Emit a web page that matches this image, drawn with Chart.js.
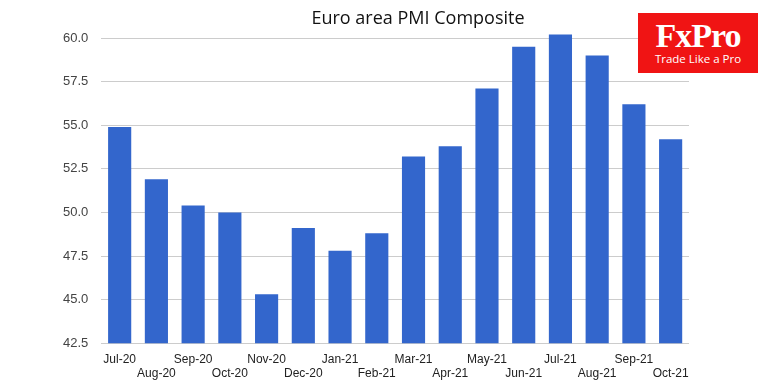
<!DOCTYPE html>
<html lang="en">
<head>
    <meta charset="UTF-8">
    <title>Euro area PMI Composite</title>
    <script src="https://cdn.jsdelivr.net/npm/chart.js"></script>
    <style>
        body { margin: 0; background: #fff; }
        .wrap { position: relative; width: 770px; height: 385px; }
        .title { position: absolute; left: 0; width: 836px; top: 5px; text-align: center;
                 font: 18px "Open Sans", sans-serif; color: #111; }
        .logo { position: absolute; left: 638px; top: 13px; width: 120px; height: 60px; background: #f01414; color: #fff; text-align: center; }
        .logo .name { font: bold 34px "Liberation Serif", serif; line-height: 30px; margin-top: 8px; letter-spacing: -1px; }
        .logo .tag { font: 11.5px "Open Sans", sans-serif; margin-top: 0px; }
    </style>
</head>
<body>
<div class="wrap">
    <canvas id="pmi" width="770" height="385"></canvas>
    <div class="title">Euro area PMI Composite</div>
    <div class="logo"><div class="name">FxPro</div><div class="tag">Trade Like a Pro</div></div>
</div>

<script>
    const months = ['Jul-20', 'Aug-20', 'Sep-20', 'Oct-20', 'Nov-20', 'Dec-20', 'Jan-21', 'Feb-21',
        'Mar-21', 'Apr-21', 'May-21', 'Jun-21', 'Jul-21', 'Aug-21', 'Sep-21', 'Oct-21'];
    const pmiValues = [54.9, 51.9, 50.4, 50.0, 45.3, 49.1, 47.8, 48.8,
        53.2, 53.8, 57.1, 59.5, 60.2, 59.0, 56.2, 54.2];

    new Chart(document.getElementById('pmi'), {
        type: 'bar',
        data: {
            labels: months,
            datasets: [{
                data: pmiValues,
                backgroundColor: '#3366cc',
                categoryPercentage: 1,
                barPercentage: 0.63,
                // let the Jul-21 bar poke above the 60.0 line
                clip: { left: 0, right: 0, bottom: 0, top: 10 }
            }]
        },
        options: {
            responsive: false,
            animation: false,
            layout: { padding: { left: 50, right: 81, top: 38, bottom: 3 } },
            plugins: { legend: { display: false }, tooltip: { enabled: false } },
            scales: {
                x: {
                    grid: { display: false },
                    border: { display: false },
                    ticks: {
                        autoSkip: false,
                        maxRotation: 0,
                        color: '#222',
                        font: { family: 'Liberation Sans', size: 12 },
                        padding: 1,
                        callback: function(value, index) {
                            const label = months[index];
                            return index % 2 === 0 ? label : ['', label];
                        }
                    }
                },
                y: {
                    min: 42.5,
                    max: 60,
                    border: { display: false },
                    grid: { color: '#cccccc', drawTicks: false },
                    ticks: {
                        stepSize: 2.5,
                        color: '#444',
                        padding: 13,
                        font: { family: 'Liberation Sans', size: 13 },
                        callback: v => v.toFixed(1)
                    }
                }
            }
        }
    });
</script>
</body>
</html>
